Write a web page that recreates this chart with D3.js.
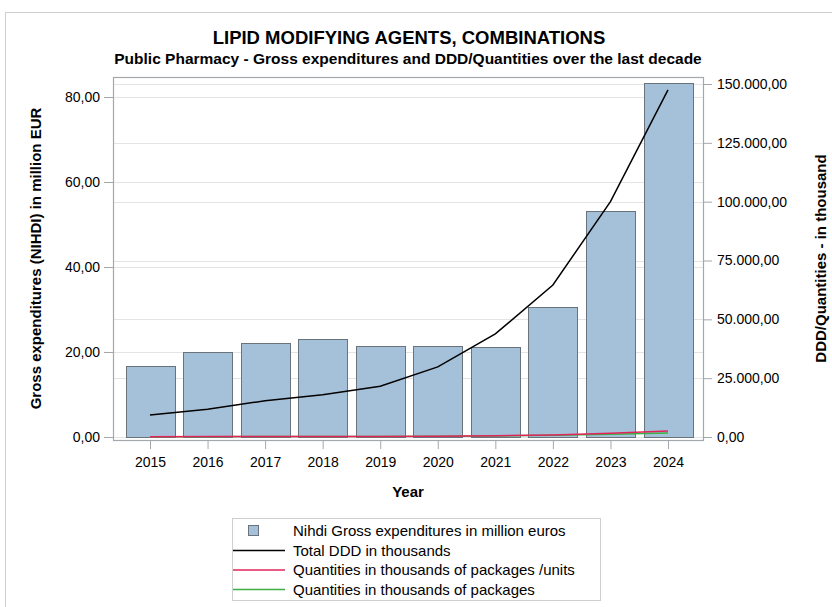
<!DOCTYPE html>
<html>
<head>
<meta charset="utf-8">
<script src="https://cdn.jsdelivr.net/npm/d3@7"></script>
<style>
  body { margin: 0; background: #fff; }
  svg { display: block; font-family: "Liberation Sans", Arial, sans-serif; }
</style>
</head>
<body>
<svg id="chart" width="832" height="607"></svg>
<script>
// values
var years = [2015, 2016, 2017, 2018, 2019, 2020, 2021, 2022, 2023, 2024];
var grossExp = [16.8, 19.9, 22.1, 23.1, 21.4, 21.5, 21.1, 30.5, 53.2, 83.2];
var totalDDD = [9350, 11800, 15400, 18000, 21600, 29800, 43800, 64600, 100000, 147500];
var qtyUnits = [150, 170, 200, 230, 260, 330, 520, 900, 1600, 2500];
var qtyPacks = [130, 150, 170, 190, 220, 280, 420, 700, 1200, 1700];
var leftTicks = [0, 20, 40, 60, 80];
var rightTicks = [0, 25000, 50000, 75000, 100000, 125000, 150000];
var legendLabels = ["Nihdi Gross expenditures in million euros", "Total DDD in thousands",
    "Quantities in thousands of packages /units", "Quantities in thousands of packages"];

var barColor = "#a5c1da",
    barEdge = "#6a737c",
    dddColor = "#000000",
    unitsColor = "#e3245b",
    packsColor = "#3cb043";

// frame of the plot area
var frame = {left: 113, right: 703, top: 77, bottom: 440};

var locale = d3.formatLocale({decimal: ",", thousands: ".", grouping: [3], currency: ["", ""]});
var fmt = locale.format(",.2f");

var svg = d3.select("#chart");

// outer light border
svg.append("rect")
    .attr("x", 5.5).attr("y", 12.5)
    .attr("width", 840).attr("height", 610)
    .attr("fill", "none")
    .attr("stroke", "#cfcfcf");

var x = d3.scalePoint()
    .domain(years)
    .range([150, 668]);
var barW = 49;

var yL = d3.scaleLinear().domain([0, 80]).range([437, 97]);
var yR = d3.scaleLinear().domain([0, 150000]).range([437, 84]);

// gridlines for both axes
svg.append("g").selectAll("line")
    .data(leftTicks)
    .enter().append("line")
    .attr("x1", frame.left).attr("x2", frame.right)
    .attr("y1", function(d) { return Math.round(yL(d)) + 0.5; })
    .attr("y2", function(d) { return Math.round(yL(d)) + 0.5; })
    .attr("stroke", "#e4e4e4");
svg.append("g").selectAll("line")
    .data(rightTicks)
    .enter().append("line")
    .attr("x1", frame.left).attr("x2", frame.right)
    .attr("y1", function(d) { return Math.round(yR(d)) + 0.5; })
    .attr("y2", function(d) { return Math.round(yR(d)) + 0.5; })
    .attr("stroke", "#e4e4e4");

// bars
svg.append("g").selectAll("rect")
    .data(grossExp)
    .enter().append("rect")
    .attr("x", function(d, i) { return Math.round(x(years[i]) - barW / 2) + 0.5; })
    .attr("y", function(d) { return Math.round(yL(d)) + 0.5; })
    .attr("width", barW)
    .attr("height", function(d) { return Math.round(yL(0)) - Math.round(yL(d)); })
    .attr("fill", barColor)
    .attr("stroke", barEdge)
    .attr("stroke-width", 1);

// lines on the right axis
function drawLine(values, color) {
    var line = d3.line()
        .x(function(d, i) { return x(years[i]); })
        .y(function(d) { return yR(d); });
    svg.append("path")
        .datum(values)
        .attr("d", line)
        .attr("fill", "none")
        .attr("stroke", color)
        .attr("stroke-width", 1.5);
}
drawLine(qtyPacks, packsColor);
drawLine(qtyUnits, unitsColor);
drawLine(totalDDD, dddColor);

// plot frame
svg.append("rect")
    .attr("x", frame.left + 0.5).attr("y", frame.top + 0.5)
    .attr("width", frame.right - frame.left)
    .attr("height", frame.bottom - frame.top)
    .attr("fill", "none")
    .attr("stroke", "#a4a8ac")
    .attr("stroke-width", 1.2);

// axes
var axisL = svg.append("g")
    .attr("transform", "translate(" + frame.left + ",0)")
    .call(d3.axisLeft(yL).tickValues(leftTicks).tickFormat(fmt).tickSize(9).tickPadding(4));
var axisR = svg.append("g")
    .attr("transform", "translate(" + frame.right + ",0)")
    .call(d3.axisRight(yR).tickValues(rightTicks).tickFormat(fmt).tickSize(9).tickPadding(5));
var axisB = svg.append("g")
    .attr("transform", "translate(0," + frame.bottom + ")")
    .call(d3.axisBottom(x).tickSize(9).tickPadding(8));

[axisL, axisR, axisB].forEach(function(a) {
    a.select(".domain").remove();
    a.selectAll(".tick line").attr("stroke", "#a4a8ac");
    a.selectAll("text")
        .attr("fill", "#000")
        .style("font-family", "Liberation Sans, Arial, sans-serif")
        .style("font-size", "14px");
});

// titles
svg.append("text")
    .attr("x", 409).attr("y", 44)
    .attr("text-anchor", "middle")
    .style("font-size", "18.5px").style("font-weight", "bold")
    .text("LIPID MODIFYING AGENTS, COMBINATIONS");
svg.append("text")
    .attr("x", 408).attr("y", 64)
    .attr("text-anchor", "middle")
    .style("font-size", "15.5px").style("font-weight", "bold")
    .text("Public Pharmacy - Gross expenditures and DDD/Quantities over the last decade");

svg.append("text")
    .attr("transform", "translate(41," + (frame.top + frame.bottom) / 2 + ") rotate(-90)")
    .attr("text-anchor", "middle")
    .style("font-size", "15px").style("font-weight", "bold")
    .text("Gross expenditures (NIHDI) in million EUR");
svg.append("text")
    .attr("transform", "translate(826," + (frame.top + frame.bottom) / 2 + ") rotate(-90)")
    .attr("text-anchor", "middle")
    .style("font-size", "15px").style("font-weight", "bold")
    .text("DDD/Quantities - in thousand");
svg.append("text")
    .attr("x", 408).attr("y", 497)
    .attr("text-anchor", "middle")
    .style("font-size", "15px").style("font-weight", "bold")
    .text("Year");

// legend
var lg = svg.append("g");
lg.append("rect")
    .attr("x", 232.5).attr("y", 518.5)
    .attr("width", 368).attr("height", 82)
    .attr("fill", "#fff")
    .attr("stroke", "#cfcfcf");
var rowY = [531, 550.5, 570, 589.5];
var lineColors = [null, dddColor, unitsColor, packsColor];
legendLabels.forEach(function(label, i) {
    if (i === 0) {
        lg.append("rect")
            .attr("x", 248.5).attr("y", rowY[i] - 5.5)
            .attr("width", 10).attr("height", 10)
            .attr("fill", barColor)
            .attr("stroke", barEdge);
    } else {
        lg.append("line")
            .attr("x1", 233).attr("x2", 285)
            .attr("y1", rowY[i]).attr("y2", rowY[i])
            .attr("stroke", lineColors[i])
            .attr("stroke-width", 1.5);
    }
    lg.append("text")
        .attr("x", 293).attr("y", rowY[i])
        .attr("dy", "0.35em")
        .style("font-size", "15px")
        .text(label);
});
</script>
</body>
</html>
